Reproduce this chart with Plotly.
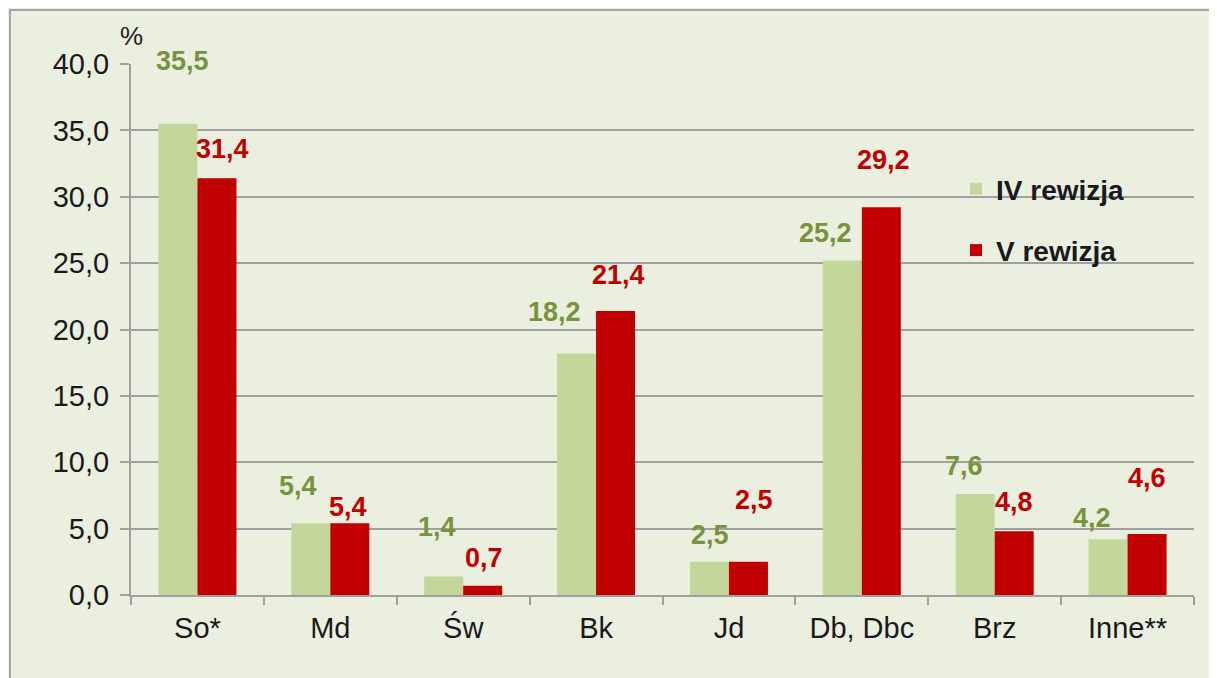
import plotly.graph_objects as go

categories = ["So*", "Md", "Św", "Bk", "Jd", "Db, Dbc", "Brz", "Inne**"]
iv_rewizja = [35.5, 5.4, 1.4, 18.2, 2.5, 25.2, 7.6, 4.2]
v_rewizja = [31.4, 5.4, 0.7, 21.4, 2.5, 29.2, 4.8, 4.6]
y_ticks = [0, 5, 10, 15, 20, 25, 30, 35, 40]

# label offsets (pixels) relative to bar top centre
iv_dx = [5, -13, -7, -22, 1, -17, -11, -16]
iv_dy = [63, 37, 49, 41, 27, 27, 28, 21]
v_dx = [6, -2, 1, 3, 6, 2, 0, 0]
v_dy = [29, 16, 28, 36, 62, 47, 29, 56]

GREEN = "#C4D79B"
GREEN_TXT = "#77933C"
RED = "#C00000"
FONT = "Liberation Sans, Arial, sans-serif"

W, H = 1209, 670
ML, MR, MT, MB = 123, 23, 56, 83
pw = W - ML - MR
ph = H - MT - MB

fig = go.Figure()
fig.add_trace(go.Bar(x=categories, y=iv_rewizja, name="IV rewizja",
                     marker=dict(color=GREEN, line=dict(width=0)),
                     legendgroup="a"))
fig.add_trace(go.Bar(x=categories, y=v_rewizja, name="V rewizja",
                     marker=dict(color=RED, line=dict(width=0)),
                     legendgroup="b"))

bargap = 0.413
bar_w = pw / len(categories) * (1 - bargap) / 2

def fmt(v):
    return f"{v:.1f}".replace(".", ",")

annotations = []
for i, c in enumerate(categories):
    annotations.append(dict(x=c, y=iv_rewizja[i], xref="x", yref="y",
                            text=f"<b>{fmt(iv_rewizja[i])}</b>", showarrow=False,
                            xanchor="center", yanchor="middle",
                            xshift=-bar_w / 2 + iv_dx[i], yshift=iv_dy[i],
                            font=dict(family=FONT, size=27, color=GREEN_TXT)))
    annotations.append(dict(x=c, y=v_rewizja[i], xref="x", yref="y",
                            text=f"<b>{fmt(v_rewizja[i])}</b>", showarrow=False,
                            xanchor="center", yanchor="middle",
                            xshift=bar_w / 2 + v_dx[i], yshift=v_dy[i],
                            font=dict(family=FONT, size=27, color=RED)))

annotations.append(dict(x=0, y=1, xref="paper", yref="paper", text="%",
                        showarrow=False, xanchor="center", yanchor="middle",
                        yshift=28, font=dict(family=FONT, size=26, color="#222222")))

shapes = [dict(type="rect", xref="paper", yref="paper",
               x0=(2 - ML) / pw, x1=1 + (MR + 60) / pw,
               y0=-(MB + 60) / ph, y1=1 + (MT - 2) / ph,
               fillcolor="#EBEFDF", line=dict(color="#A6A6A6", width=2),
               layer="below")]

fig.update_layout(
    width=W, height=H,
    margin=dict(l=ML, r=MR, t=MT, b=MB, pad=0),
    paper_bgcolor="#EBEFDF",
    plot_bgcolor="rgba(0,0,0,0)",
    barmode="group", bargap=bargap, bargroupgap=0,
    separators=", ",
    font=dict(family=FONT, size=29, color="#1a1a1a"),
    showlegend=True,
    legend=dict(x=(956 - 8 - ML) / pw, y=(MT + ph - 156) / ph, xanchor="left", yanchor="top",
                bgcolor="rgba(0,0,0,0)", borderwidth=0,
                font=dict(family=FONT, size=28, color="#1a1a1a", weight="bold"),
                tracegroupgap=22, traceorder="grouped"),
    annotations=annotations,
    shapes=shapes,
    xaxis=dict(showgrid=False, showline=True, linecolor="#A0A0A0", linewidth=2,
               ticks="outside", tickson="boundaries", ticklen=8, tickcolor="#A0A0A0",
               tickwidth=2, ticklabelstandoff=6,
               tickfont=dict(family=FONT, size=29, color="#1a1a1a")),
    yaxis=dict(range=[0, 40], tickvals=y_ticks, tickformat=".1f",
               showgrid=True, gridcolor="#A0A0A0", gridwidth=2,
               showline=True, linecolor="#A0A0A0", linewidth=2,
               ticks="outside", ticklen=9, tickcolor="#A0A0A0", tickwidth=2,
               zeroline=False, ticklabelstandoff=5,
               tickfont=dict(family=FONT, size=29, color="#1a1a1a")),
)

fig.write_html("out.html")
